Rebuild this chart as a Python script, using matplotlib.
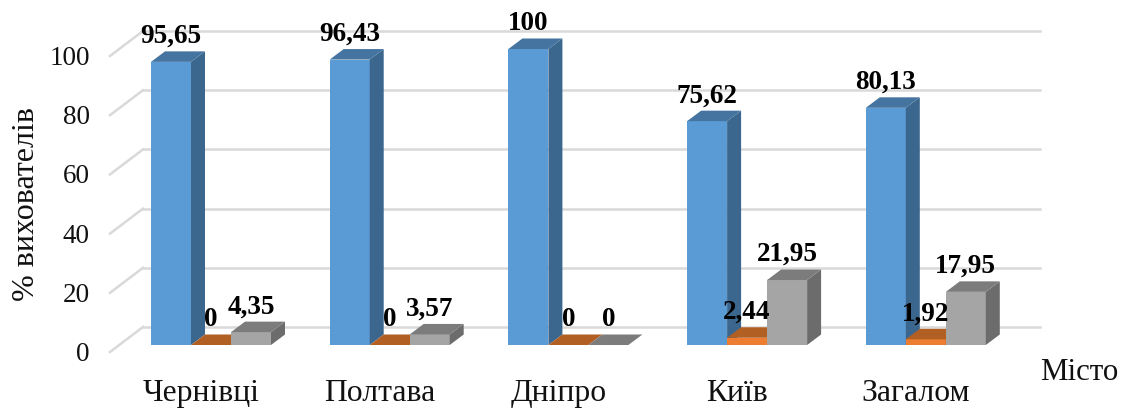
import matplotlib.pyplot as plt
from matplotlib.patches import Polygon

plt.rcParams['font.family'] = ['Liberation Serif', 'DejaVu Serif']

# Дані
mista = ['Чернівці', 'Полтава', 'Дніпро', 'Київ', 'Загалом']
seria_1 = [95.65, 96.43, 100, 75.62, 80.13]
seria_2 = [0, 0, 0, 2.44, 1.92]
seria_3 = [4.35, 3.57, 0, 21.95, 17.95]
pidpysy_1 = ['95,65', '96,43', '100', '75,62', '80,13']
pidpysy_2 = ['0', '0', '0', '2,44', '1,92']
pidpysy_3 = ['4,35', '3,57', '0', '21,95', '17,95']
rivni = [0, 20, 40, 60, 80, 100]

# Кольори: передня грань, бічна, верхня
kolory_1 = ('#5b9bd5', '#3b668d', '#44749f')
kolory_2 = ('#ed7d31', '#ad5b23', '#b25f24')
kolory_3 = ('#a5a5a5', '#6c6c6c', '#7c7c7c')

# Масштаб у пікселях
krok = 178.7
px_y = 2.96
x_0 = 211
y_0 = 345
W, H = 1129, 408

fig = plt.figure(figsize=(W / 100, H / 100), dpi=100)
ax = fig.add_axes([0, 0, 1, 1])
ax.set_xlim(-x_0 / krok, (W - x_0) / krok)
ax.set_ylim(-(H - y_0) / px_y, y_0 / px_y)
ax.axis('off')

shyryna = 40 / krok
dx = 14 / krok
dy = 10.5 / px_y


def stovpchyk(x, v, kolory):
    front, bik, verh = kolory
    l, r = x - shyryna / 2, x + shyryna / 2
    if v > 0:
        ax.add_patch(Polygon([(l, 0), (r, 0), (r, v), (l, v)], fc=front, ec='none', zorder=3))
    ax.add_patch(Polygon([(r, 0), (r + dx, dy), (r + dx, v + dy), (r, v)], fc=bik, ec='none', zorder=3))
    ax.add_patch(Polygon([(l, v), (r, v), (r + dx, v + dy), (l + dx, v + dy)], fc=verh, ec='none', zorder=3))


# Сітка: задня стінка і ліва бічна стінка
for r in rivni:
    y_f = r - 7 / px_y
    y_b = r + 18 / px_y
    x_f = (110 - x_0) / krok
    x_b = (143 - x_0) / krok
    ax.plot([x_f, x_b], [y_f, y_b], color='#d9d9d9', lw=1.8, zorder=1)
    ax.plot([x_b, (1040 - x_0) / krok], [y_b, y_b], color='#d9d9d9', lw=1.8, zorder=1)
    ax.text((90 - x_0) / krok, y_f - 9 / px_y, str(r), ha='right', va='baseline', fontsize=19.5, color='#111111')

# Стовпчики зліва направо
vidstup = 6.4
for i in range(len(mista)):
    grupa = [(seria_1[i], pidpysy_1[i], kolory_1, -1),
             (seria_2[i], pidpysy_2[i], kolory_2, 0),
             (seria_3[i], pidpysy_3[i], kolory_3, 1)]
    for v, tekst, kolory, n in grupa:
        stovpchyk(i + n * shyryna, v, kolory)
    for v, tekst, kolory, n in grupa:
        ax.text(i + n * shyryna, v + vidstup, tekst, ha='center', va='baseline',
                fontsize=19.5, fontweight='bold', color='black', zorder=5)
    ax.text(i - 10 / krok, -(401 - y_0) / px_y, mista[i], ha='center', va='baseline',
            fontsize=22.8, color='#111111')

ax.text((1040 - x_0) / krok, -(380 - y_0) / px_y, 'Місто', ha='left', va='baseline',
        fontsize=22.3, color='#111111')
ax.text((27 - x_0) / krok, (y_0 - 204) / px_y, '% вихователів', rotation=90, ha='center', va='center',
        fontsize=23, color='#111111')

fig.savefig('out.png', dpi=100)
